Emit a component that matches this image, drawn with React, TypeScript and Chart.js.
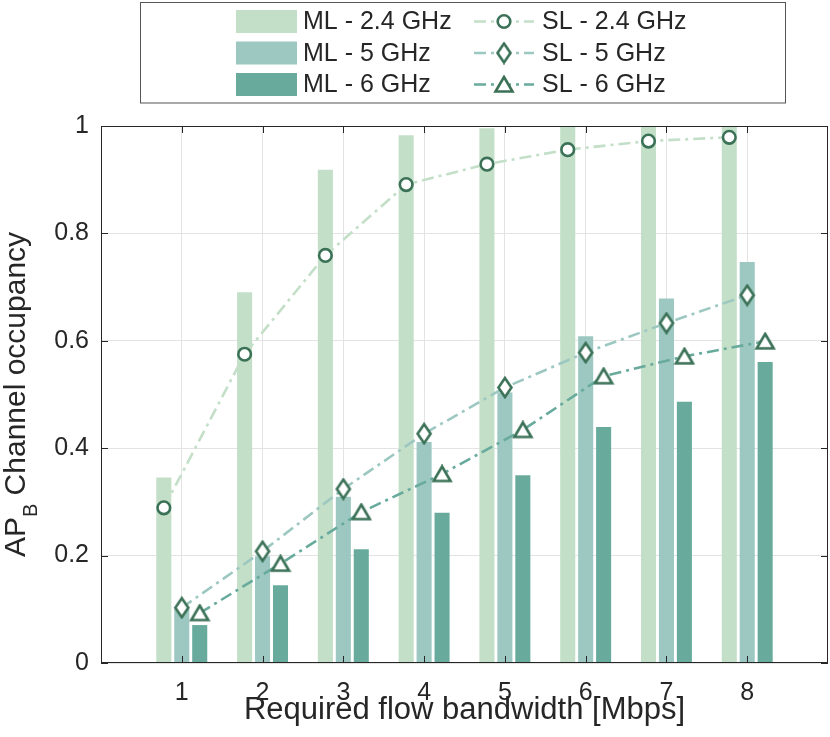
import { useEffect, useRef } from "react";
import { Chart, registerables } from "chart.js";

Chart.register(...registerables);

// Flow bandwidth categories (Mbps)
const categories = [1, 2, 3, 4, 5, 6, 7, 8];

// ML bars (channel occupancy)
const ml24 = [0.345, 0.69, 0.918, 0.982, 0.995, 1.0, 1.0, 1.0];
const ml5 = [0.1, 0.198, 0.309, 0.411, 0.503, 0.608, 0.678, 0.746];
const ml6 = [0.07, 0.144, 0.211, 0.279, 0.349, 0.439, 0.486, 0.56];

// SL lines
const sl24 = [0.289, 0.575, 0.759, 0.891, 0.929, 0.956, 0.972, 0.979];
const sl5 = [0.103, 0.208, 0.324, 0.427, 0.513, 0.578, 0.633, 0.685];
const sl6 = [0.093, 0.185, 0.281, 0.352, 0.434, 0.534, 0.571, 0.599];

const yTicks = [0, 0.2, 0.4, 0.6, 0.8, 1];
const xTitle = "Required flow bandwidth [Mbps]";

const FONT = "'Liberation Sans', Arial, Helvetica, sans-serif";
const C24 = "#c3dfc8";
const C5 = "#9cc8c1";
const C6 = "#68ab9d";
const MARK = "#3b7157";
const AXIS = "#262626";
const GROUP_OFFSET = 0.2222; // matlab grouped bar offset for 3 series

function makeDiamond() {
  const c = document.createElement("canvas");
  c.width = 18;
  c.height = 23;
  const g = c.getContext("2d")!;
  g.fillStyle = "#fff";
  g.strokeStyle = MARK;
  g.lineWidth = 2.6;
  g.beginPath();
  g.moveTo(9, 2);
  g.lineTo(15.5, 11.5);
  g.lineTo(9, 21);
  g.lineTo(2.5, 11.5);
  g.closePath();
  g.fill();
  g.stroke();
  return c;
}

function makeTriangle() {
  const c = document.createElement("canvas");
  c.width = 22;
  c.height = 19;
  const g = c.getContext("2d")!;
  g.fillStyle = "#fff";
  g.strokeStyle = MARK;
  g.lineWidth = 2.6;
  g.beginPath();
  g.moveTo(11, 2);
  g.lineTo(19.5, 16.5);
  g.lineTo(2.5, 16.5);
  g.closePath();
  g.fill();
  g.stroke();
  return c;
}

export default function App() {
  const chartRef = useRef<HTMLCanvasElement>(null);
  const chartInstance = useRef<Chart | null>(null);

  useEffect(() => {
    if (!chartRef.current) return;
    document.body.style.margin = "0";
    document.documentElement.style.overflow = "hidden";

    if (chartInstance.current) {
      chartInstance.current.destroy();
    }

    const ctx = chartRef.current.getContext("2d");
    if (!ctx) return;

    const diamond = makeDiamond();
    const triangle = makeTriangle();

    const bar = (label: string, vals: number[], color: string, off: number) => ({
      type: "bar" as const,
      label,
      data: categories.map((c, i) => ({ x: c + off, y: vals[i] })),
      backgroundColor: color,
      barThickness: 14.4,
      grouped: false,
      order: 2,
    });

    const line = (label: string, vals: number[], color: string, off: number, style: any) => ({
      type: "line" as const,
      label,
      data: categories.map((c, i) => ({ x: c + off, y: vals[i] })),
      borderColor: color,
      borderWidth: 2.6,
      borderDash: [12, 5, 3, 5],
      pointStyle: style,
      pointRadius: 6.3,
      pointBorderWidth: 2.6,
      pointBorderColor: MARK,
      pointBackgroundColor: "#fff",
      order: 0,
    });

    const datasets: any[] = [
      bar("ML - 2.4 GHz", ml24, C24, -GROUP_OFFSET),
      bar("ML - 5 GHz", ml5, C5, 0),
      bar("ML - 6 GHz", ml6, C6, GROUP_OFFSET),
      line("SL - 2.4 GHz", sl24, C24, -GROUP_OFFSET, "circle"),
      line("SL - 5 GHz", sl5, C5, 0, diamond),
      line("SL - 6 GHz", sl6, C6, GROUP_OFFSET, triangle),
    ];

    // axes box, inward ticks, titles and the two-column legend
    const decor = {
      id: "decor",
      afterDraw(chart: Chart) {
        const { ctx: g, chartArea: a } = chart;
        const xs = chart.scales.x;
        const ys = chart.scales.y;
        g.save();

        g.strokeStyle = AXIS;
        g.lineWidth = 1;
        g.strokeRect(a.left + 0.5, a.top + 0.5, a.right - a.left - 1, a.bottom - a.top - 1);
        g.beginPath();
        categories.forEach((v) => {
          const px = Math.round(xs.getPixelForValue(v)) + 0.5;
          g.moveTo(px, a.bottom);
          g.lineTo(px, a.bottom - 7);
          g.moveTo(px, a.top);
          g.lineTo(px, a.top + 7);
        });
        yTicks.forEach((v) => {
          const py = Math.round(ys.getPixelForValue(v)) + 0.5;
          g.moveTo(a.left, py);
          g.lineTo(a.left + 7, py);
          g.moveTo(a.right, py);
          g.lineTo(a.right - 7, py);
        });
        g.stroke();

        // x title
        g.fillStyle = AXIS;
        g.font = `31px ${FONT}`;
        g.textAlign = "center";
        g.textBaseline = "alphabetic";
        g.fillText(xTitle, (a.left + a.right) / 2, a.bottom + 56);

        // y title with subscript
        g.save();
        g.translate(25, (a.top + a.bottom) / 2);
        g.rotate(-Math.PI / 2);
        g.textAlign = "left";
        const big = `30px ${FONT}`;
        const small = `20px ${FONT}`;
        g.font = big;
        const w1 = g.measureText("AP").width;
        const w3 = g.measureText(" Channel occupancy").width;
        g.font = small;
        const w2 = g.measureText("B").width;
        let u = -(w1 + w2 + w3) / 2;
        g.font = big;
        g.fillText("AP", u, 0);
        u += w1;
        g.font = small;
        g.fillText("B", u, 12);
        u += w2;
        g.font = big;
        g.fillText(" Channel occupancy", u, 0);
        g.restore();

        // legend
        g.fillStyle = "#fff";
        g.fillRect(140.5, 2.5, 645, 100.5);
        g.strokeStyle = "#555";
        g.strokeRect(140.5, 2.5, 645, 100.5);
        const rows = [21.5, 53, 84.5];
        const ds = chart.data.datasets as any[];
        g.font = `25px ${FONT}`;
        g.textBaseline = "middle";
        g.textAlign = "left";
        rows.forEach((yc, r) => {
          const b = ds[r];
          const l = ds[r + 3];
          g.fillStyle = b.backgroundColor;
          g.fillRect(236, yc - 11.5, 61, 23);
          g.fillStyle = AXIS;
          g.fillText(b.label, 303, yc + 1);

          g.save();
          g.strokeStyle = l.borderColor;
          g.lineWidth = 2.6;
          g.setLineDash(l.borderDash);
          g.beginPath();
          g.moveTo(474, yc);
          g.lineTo(534, yc);
          g.stroke();
          g.restore();
          if (typeof l.pointStyle === "string") {
            g.beginPath();
            g.arc(504, yc, 6.3, 0, Math.PI * 2);
            g.fillStyle = "#fff";
            g.fill();
            g.lineWidth = 2.6;
            g.strokeStyle = MARK;
            g.stroke();
          } else {
            const im = l.pointStyle as HTMLCanvasElement;
            g.drawImage(im, 504 - im.width / 2, yc - im.height / 2);
          }
          g.fillStyle = AXIS;
          g.fillText(l.label, 542, yc + 1);
        });

        g.restore();
      },
    };

    chartInstance.current = new Chart(ctx, {
      type: "bar",
      data: { datasets },
      plugins: [decor],
      options: {
        animation: false,
        responsive: false,
        events: [],
        // autoPadding would add room for the point markers on the right
        layout: { autoPadding: false, padding: { top: 126, right: 2, left: 0, bottom: 0 } },
        plugins: {
          legend: { display: false },
          tooltip: { enabled: false },
        },
        scales: {
          x: {
            type: "linear",
            min: 0,
            max: 9,
            offset: false,
            afterBuildTicks: (s: any) => {
              s.ticks = categories.map((v) => ({ value: v }));
            },
            afterFit: (s: any) => {
              s.height = 74;
              s.paddingLeft = 0;
              s.paddingRight = 0;
            },
            grid: { color: "#e3e3e3", drawTicks: false, offset: false },
            border: { display: false },
            ticks: {
              padding: 15,
              color: AXIS,
              font: { family: FONT, size: 25 },
              callback: (v: any) => String(v),
            },
          },
          y: {
            min: 0,
            max: 1,
            afterBuildTicks: (s: any) => {
              s.ticks = yTicks.map((v) => ({ value: v }));
            },
            afterFit: (s: any) => {
              s.width = 101;
              s.paddingTop = 0;
              s.paddingBottom = 0;
            },
            grid: { color: "#e3e3e3", drawTicks: false },
            border: { display: false },
            ticks: {
              padding: 12,
              color: AXIS,
              font: { family: FONT, size: 25 },
              callback: (v: any) => String(v),
            },
          },
        },
      },
    });

    return () => {
      if (chartInstance.current) {
        chartInstance.current.destroy();
        chartInstance.current = null;
      }
    };
  }, []);

  return (
    <div style={{ position: "relative", width: 830, height: 737 }}>
      <canvas ref={chartRef} width={830} height={737} style={{ display: "block" }} />
    </div>
  );
}
